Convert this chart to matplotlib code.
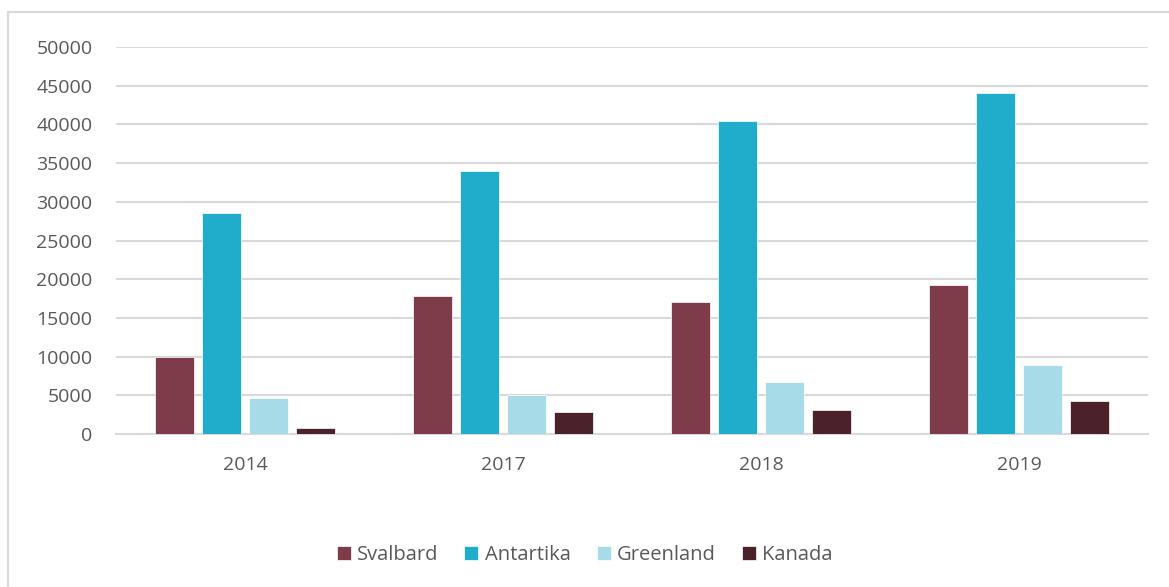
import numpy as np
import matplotlib.pyplot as plt
from matplotlib.patches import Rectangle

years = ['2014', '2017', '2018', '2019']
series = ['Svalbard', 'Antartika', 'Greenland', 'Kanada']
svalbard = [10000, 17800, 17000, 19200]
antartika = [28500, 34000, 40500, 44000]
greenland = [4700, 5000, 6700, 8900]
kanada = [800, 2800, 3100, 4200]
colors = ['#7E3B4A', '#1FADCB', '#A7DBE8', '#4B222B']

plt.rcParams['font.family'] = ['Open Sans', 'DejaVu Sans']
text_col = '#595959'

fig = plt.figure(figsize=(11.69, 5.87), dpi=100)
ax = fig.add_axes([116 / 1169, 1 - 434 / 587, (1148 - 116) / 1169, (434 - 47) / 587])

# chart border
fig.patches.append(Rectangle((8 / 1169, -0.01), 1.02, 1 - 12 / 587 + 0.01,
                             transform=fig.transFigure, fill=False,
                             edgecolor='#D9D9D9', linewidth=1.5))

x = np.arange(len(years))
width = 0.148
step = 0.182
for i, (name, vals) in enumerate(zip(series, [svalbard, antartika, greenland, kanada])):
    ax.bar(x + (i - 1.5) * step, vals, width, color=colors[i], label=name,
           edgecolor='white', linewidth=0.5, zorder=3)

ax.set_xlim(-0.5, len(years) - 0.5)
ax.set_ylim(0, 50000)
ax.set_yticks(range(0, 50001, 5000))
ax.set_xticks(x)
ax.set_xticklabels(years)
ax.yaxis.grid(True, color='#D9D9D9', linewidth=1.5, zorder=0)
ax.set_axisbelow(True)
for s in ['top', 'right', 'left']:
    ax.spines[s].set_visible(False)
ax.spines['bottom'].set_color('#D9D9D9')
ax.spines['bottom'].set_linewidth(1.5)
ax.tick_params(axis='both', length=0, labelsize=14, labelcolor=text_col)
ax.tick_params(axis='y', pad=17)
ax.tick_params(axis='x', pad=16)

leg = fig.legend(loc='center', bbox_to_anchor=(0.5, 1 - 555 / 587), ncol=4,
                 frameon=False, fontsize=14.5, handlelength=0.7, handleheight=0.7,
                 handletextpad=0.3, columnspacing=1.3)
for t in leg.get_texts():
    t.set_color(text_col)

fig.savefig('out.png', dpi=100)
